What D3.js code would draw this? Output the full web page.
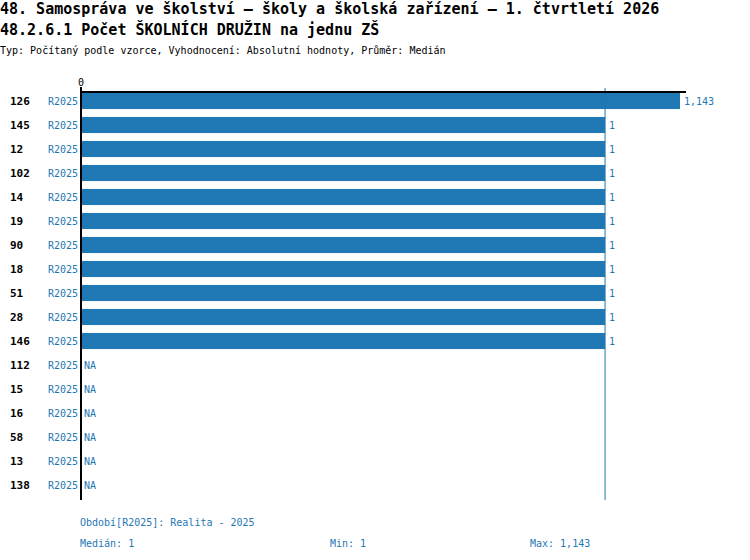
<!DOCTYPE html>
<html><head><meta charset="utf-8">
<script src="https://cdn.jsdelivr.net/npm/d3@7"></script>
<style>body{margin:0;background:#fff}svg{display:block}</style>
</head><body>
<script>
const titleLines = ["48. Samospráva ve školství – školy a školská zařízení – 1. čtvrtletí 2026", "48.2.6.1 Počet ŠKOLNÍCH DRUŽIN na jednu ZŠ"];
const subtitle = "Typ: Počítaný podle vzorce, Vyhodnocení: Absolutní hodnoty, Průměr: Medián";
const categories = ["126","145","12","102","14","19","90","18","51","28","146","112","15","16","58","13","138"];
const periods = ["R2025","R2025","R2025","R2025","R2025","R2025","R2025","R2025","R2025","R2025","R2025","R2025","R2025","R2025","R2025","R2025","R2025"];
const values = [1.143,1,1,1,1,1,1,1,1,1,1,null,null,null,null,null,null];
const median = 1, minV = 1, maxV = 1.143;
const footer = ["Období[R2025]: Realita - 2025"];

const W = 750, H = 560, blue = "#1f77b4", font = "DejaVu Sans Mono, monospace";
const fmt = v => d3.format(",.3~f")(v).replace(".", "#").replace(/,/g, " ").replace("#", ",");
const fmtN = v => (v === Math.round(v) ? String(v) : v.toFixed(3).replace(".", ","));

const svg = d3.select("body").append("svg").attr("width", W).attr("height", H).style("font-family", font);

svg.append("text").attr("x", 0).attr("y", 14).attr("font-size", 15).attr("font-weight", "bold").text(titleLines[0]);
svg.append("text").attr("x", 0).attr("y", 35).attr("font-size", 15).attr("font-weight", "bold").text(titleLines[1]);
svg.append("text").attr("x", 0).attr("y", 54).attr("font-size", 10).text(subtitle);

const x = d3.scaleLinear().domain([0, d3.max(values) * 1.01]).range([81, 686]);
const y = d3.scaleBand().domain(categories).range([89, 497]).paddingInner(0.33).paddingOuter(0.165);

// bars
const rows = categories.map((c, i) => ({c, p: periods[i], v: values[i]}));
svg.selectAll("rect.bar").data(rows.filter(d => d.v != null)).join("rect")
  .attr("x", x(0)).attr("y", d => y(d.c)).attr("width", d => x(d.v) - x(0)).attr("height", y.bandwidth())
  .attr("fill", blue);

// median line
svg.append("line").attr("x1", x(median)).attr("x2", x(median)).attr("y1", 88).attr("y2", 500)
  .attr("stroke", blue).attr("stroke-width", 1);

// axes lines
svg.append("line").attr("x1", x(0)).attr("x2", x.range()[1]).attr("y1", 92).attr("y2", 92).attr("stroke", "#000").attr("stroke-width", 2);
svg.append("line").attr("x1", x(0)).attr("x2", x(0)).attr("y1", 87).attr("y2", 500).attr("stroke", "#000").attr("stroke-width", 2);
svg.append("text").attr("x", x(0)).attr("y", 86).attr("font-size", 10).attr("text-anchor", "middle").text("0");

// row labels
const cy = d => y(d.c) + y.bandwidth() / 2 + 4;
svg.selectAll("text.cat").data(rows).join("text").attr("x", 10).attr("y", cy)
  .attr("font-size", 11).attr("font-weight", "bold").text(d => d.c);
svg.selectAll("text.per").data(rows).join("text").attr("x", 78).attr("y", cy)
  .attr("font-size", 10).attr("text-anchor", "end").attr("fill", blue).text(d => d.p);
svg.selectAll("text.val").data(rows).join("text")
  .attr("x", d => d.v == null ? x(0) + 3 : x(d.v) + 4).attr("y", cy)
  .attr("font-size", 10).attr("fill", blue).text(d => d.v == null ? "NA" : fmtN(d.v));

// footer
svg.append("text").attr("x", 80).attr("y", 526).attr("font-size", 10).attr("fill", blue).text(footer[0]);
svg.append("text").attr("x", 80).attr("y", 547).attr("font-size", 10).attr("fill", blue).text("Medián: " + fmtN(median));
svg.append("text").attr("x", 330).attr("y", 547).attr("font-size", 10).attr("fill", blue).text("Min: " + fmtN(minV));
svg.append("text").attr("x", 530).attr("y", 547).attr("font-size", 10).attr("fill", blue).text("Max: " + fmtN(maxV));
</script>
</body></html>
